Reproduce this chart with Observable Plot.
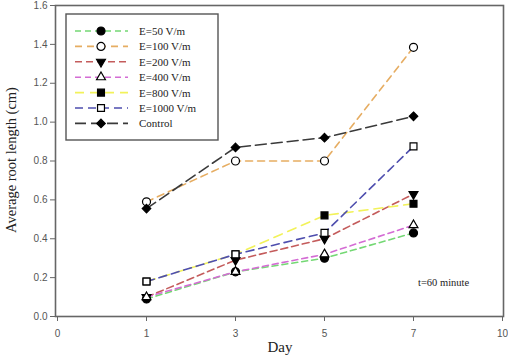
<!DOCTYPE html>
<html><head><meta charset="utf-8">
<script src="https://cdn.jsdelivr.net/npm/d3@7"></script>
<script src="https://cdn.jsdelivr.net/npm/@observablehq/plot@0.6"></script>
<style>
body{margin:0;background:#fff}
#chart svg{display:block}
</style>
</head><body><div id="chart"></div>
<script>
// ---- data ----
const xTickLabels = ["0", "1", "3", "5", "7", "10"];
const days = ["1", "3", "5", "7"];
const yTicks = [0, 0.2, 0.4, 0.6, 0.8, 1.0, 1.2, 1.4, 1.6];
const seriesNames = ["E=50 V/m", "E=100 V/m", "E=200 V/m", "E=400 V/m", "E=800 V/m", "E=1000 V/m", "Control"];
const e50 = [0.09, 0.23, 0.30, 0.43];
const e100 = [0.59, 0.80, 0.80, 1.385];
const e200 = [0.10, 0.29, 0.40, 0.63];
const e400 = [0.10, 0.23, 0.32, 0.47];
const e800 = [0.18, 0.32, 0.52, 0.58];
const e1000 = [0.18, 0.32, 0.43, 0.875];
const control = [0.555, 0.87, 0.92, 1.03];
const seriesValues = [e50, e100, e200, e400, e800, e1000, control];
const xLabel = "Day";
const yLabel = "Average root length (cm)";
const note = "t=60 minute";

// ---- styles ----
const sqrt3 = Math.sqrt(3);
const triangleDown = {
  draw(ctx, size) {
    const y = -Math.sqrt(size / (sqrt3 * 3));
    ctx.moveTo(0, -y * 2);
    ctx.lineTo(-sqrt3 * y, y);
    ctx.lineTo(sqrt3 * y, y);
    ctx.closePath();
  }
};
const diamond = {
  draw(ctx, size) {
    const h = Math.sqrt(size / 2);
    ctx.moveTo(0, -h);
    ctx.lineTo(h, 0);
    ctx.lineTo(0, h);
    ctx.lineTo(-h, 0);
    ctx.closePath();
  }
};
const styles = [
  {color: "#74d874", dash: "6,4", symbol: d3.symbolCircle, fill: "black", r: 4},
  {color: "#e6ad62", dash: "7,5", symbol: d3.symbolCircle, fill: "white", r: 4},
  {color: "#c45c5c", dash: "7,4", symbol: triangleDown, fill: "black", r: 3.3},
  {color: "#d46cd4", dash: "6,4", symbol: d3.symbolTriangle, fill: "white", r: 3.3},
  {color: "#f2f25a", dash: "9,6", symbol: d3.symbolSquare, fill: "black", r: 3.9},
  {color: "#4e4eae", dash: "8,5", symbol: d3.symbolSquare, fill: "white", r: 3.9},
  {color: "#3a3a3a", dash: "11,5", symbol: diamond, fill: "black", r: 3.4}
];

const table = [];
seriesNames.forEach((name, i) => {
  days.forEach((d, j) => table.push({series: name, idx: i, day: d, value: seriesValues[i][j]}));
});

const marks = [];
seriesNames.forEach((name, i) => {
  const rows = table.filter(r => r.idx === i);
  marks.push(Plot.line(rows, {x: "day", y: "value", stroke: styles[i].color, strokeWidth: 1.6, strokeDasharray: styles[i].dash}));
});
seriesNames.forEach((name, i) => {
  const rows = table.filter(r => r.idx === i);
  marks.push(Plot.dot(rows, {x: "day", y: "value", symbol: styles[i].symbol, r: styles[i].r, fill: styles[i].fill, stroke: "black", strokeWidth: 1.2}));
});

const W = 508, H = 359;
const plot = Plot.plot({
  width: W, height: H,
  marginLeft: 55, marginRight: 5, marginTop: 5, marginBottom: 43,
  style: {background: "white", fontFamily: "Liberation Sans, Arial, sans-serif"},
  x: {type: "point", domain: xTickLabels, padding: 0, label: null},
  y: {domain: [0, 1.6], label: null},
  marks: [
    Plot.frame({stroke: "#666", strokeWidth: 1.6}),
    Plot.axisY({ticks: yTicks, tickFormat: d => d.toFixed(1), tickSize: 5, tickPadding: 3, fontSize: 10, color: "#555", stroke: "#666", label: null}),
    Plot.axisX({ticks: xTickLabels, tickSize: 5, tickPadding: 8, fontSize: 10, color: "#555", stroke: "#666", label: null}),
    ...marks
  ]
});
document.getElementById("chart").appendChild(plot);

// ---- annotations & legend ----
const svg = d3.select(plot);
const serif = "Liberation Serif, Times New Roman, serif";
svg.append("text").attr("x", 280).attr("y", 352).attr("text-anchor", "middle")
  .attr("font-family", serif).attr("font-size", 15).attr("fill", "#222").text(xLabel);
svg.append("text").attr("transform", "translate(16,160) rotate(-90)").attr("text-anchor", "middle")
  .attr("font-family", serif).attr("font-size", 14.5).attr("fill", "#222").text(yLabel);
svg.append("text").attr("x", 418).attr("y", 286).attr("text-anchor", "start")
  .attr("font-family", serif).attr("font-size", 10.5).attr("fill", "#222").text(note);

const lg = svg.append("g");
lg.append("rect").attr("x", 66).attr("y", 14).attr("width", 152).attr("height", 126)
  .attr("fill", "white").attr("stroke", "#555").attr("stroke-width", 1.4);
seriesNames.forEach((name, i) => {
  const y = 31 + i * 15.4;
  lg.append("line").attr("x1", 75).attr("x2", 128).attr("y1", y).attr("y2", y)
    .attr("stroke", styles[i].color).attr("stroke-width", 1.6).attr("stroke-dasharray", styles[i].dash);
  lg.append("path").attr("transform", `translate(101,${y})`)
    .attr("d", d3.symbol(styles[i].symbol, Math.PI * styles[i].r * styles[i].r)())
    .attr("fill", styles[i].fill).attr("stroke", "black").attr("stroke-width", 1.2);
  lg.append("text").attr("x", 139).attr("y", y + 4).attr("text-anchor", "start")
    .attr("font-family", serif).attr("font-size", 11).attr("fill", "#222").text(name);
});
</script>
</body></html>
